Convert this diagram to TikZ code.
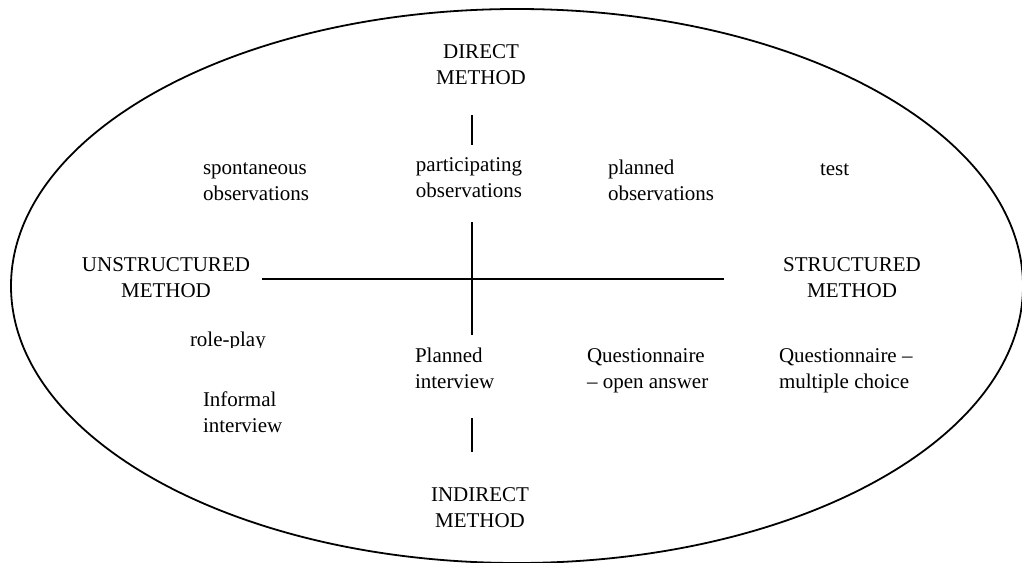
\documentclass[tikz,border=0pt]{standalone}
\usepackage{fontspec}
\setmainfont{Liberation Serif}
\begin{document}
\begin{tikzpicture}[x=1pt,y=-1pt,
  lbl/.style={inner sep=0pt, outer sep=0pt, font=\fontsize{21}{26}\selectfont},
  lblc/.style={lbl, align=center, anchor=base},
  lbll/.style={lbl, align=left, anchor=base west},
  axis/.style={line width=1.8pt},
  oval/.style={line width=1.8pt}]
\clip (0,0) rectangle (1022,562);
\fill[white] (0,0) rectangle (1022,562);
\draw[oval] (517,286) ellipse [x radius=506, y radius=277];

% anchors are at the baseline of the last line
\node[lblc] (direct) at (481,84) {DIRECT\\METHOD};
\node[lblc] (partic) at (469,197) {participating\\observations};
\node[lbll] (spont) at (203,200) {spontaneous\\observations};
\node[lbll] (planobs) at (608,200) {planned\\observations};
\node[lbll] (test) at (820,175) {test};
\node[lblc] (unstr) at (166,297) {UNSTRUCTURED\\METHOD};
\node[lblc] (str) at (852,297) {STRUCTURED\\METHOD};
\begin{scope}
\clip (150,300) rectangle (320,347.5);
\node[lbll] (role) at (190,346) {role-play};
\end{scope}
\node[lbll] (planint) at (415,388) {Planned\\interview};
\node[lbll] (qopen) at (587,388) {Questionnaire\\– open answer};
\node[lbll] (qmult) at (779,388) {Questionnaire –\\multiple choice};
\node[lbll] (inf) at (203,432) {Informal\\interview};
\node[lblc] (indirect) at (480,527) {INDIRECT\\METHOD};

\coordinate (t1) at (472,115);
\coordinate (t2) at (472,145);
\coordinate (m1) at (472,222);
\coordinate (m2) at (472,335);
\coordinate (b1) at (472,418);
\coordinate (b2) at (472,452);
\coordinate (h1) at (262,279);
\coordinate (h2) at (724,279);
\draw[axis] (t1) -- (t2);
\draw[axis] (m1) -- (m2);
\draw[axis] (b1) -- (b2);
\draw[axis] (h1) -- (h2);
\end{tikzpicture}
\end{document}
